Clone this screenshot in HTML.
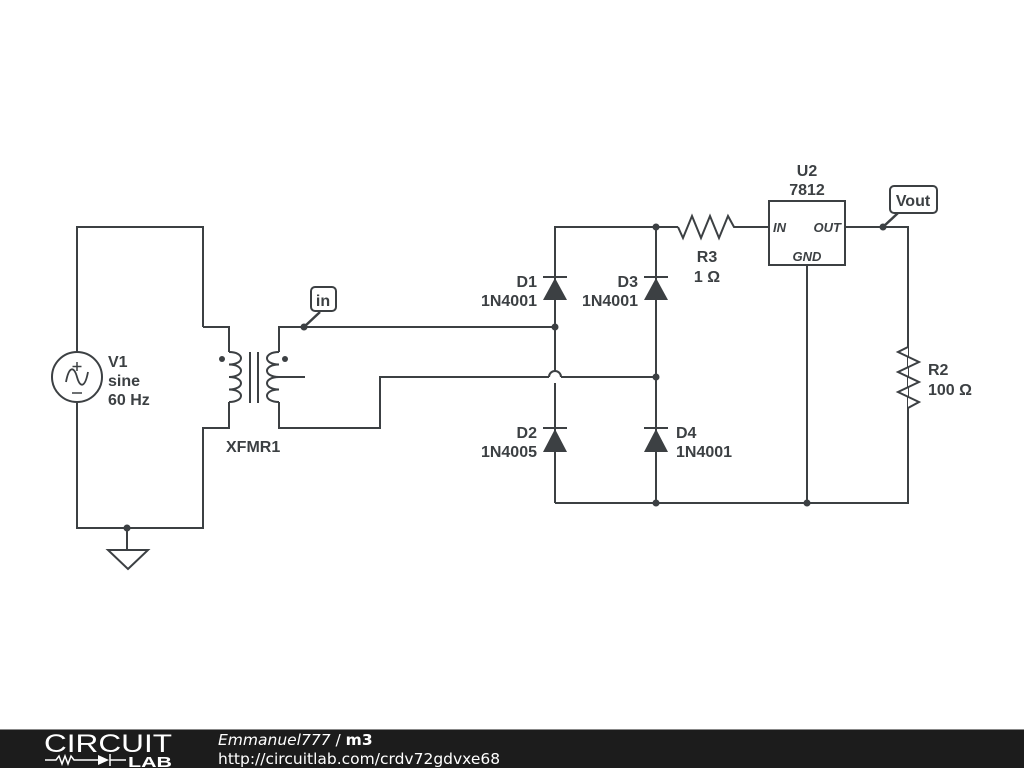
<!DOCTYPE html>
<html><head><meta charset="utf-8"><style>
html,body{margin:0;padding:0;background:#fff;width:1024px;height:768px;overflow:hidden}
svg{display:block}
text{font-family:"Liberation Sans",sans-serif;font-weight:bold;font-size:16px;fill:#3c4043}
</style></head><body>
<svg width="1024" height="768" viewBox="0 0 1024 768" xmlns="http://www.w3.org/2000/svg">
<g fill="none" stroke="#3c4043" stroke-width="2">
<polyline points="203,327 203,227 77,227 77,352"/>
<polyline points="77,402 77,528 203,528 203,428 229,428 229,402"/>
<polyline points="203,327 229,327 229,352"/>
<circle cx="77" cy="377" r="25"/>
<path d="M66,382 C69,366 74,366 77,377 C80,388 85,388 88,372" stroke-width="1.8"/>
<line x1="77" y1="362" x2="77" y2="371" stroke-width="1.5"/>
<line x1="72.5" y1="366.5" x2="81.5" y2="366.5" stroke-width="1.5"/>
<line x1="72" y1="393" x2="82" y2="393" stroke-width="1.5"/>
<line x1="127" y1="528" x2="127" y2="550"/>
<polygon points="108,550 148,550 128,569"/>
<path d="M229,352 c16,0 16,12.5 0,12.5 c16,0 16,12.5 0,12.5 c16,0 16,12.5 0,12.5 c16,0 16,12.5 0,12.5"/>
<line x1="250" y1="352" x2="250" y2="403"/>
<line x1="258" y1="352" x2="258" y2="403"/>
<path d="M279,352 c-16,0 -16,12.5 0,12.5 c-16,0 -16,12.5 0,12.5 c-16,0 -16,12.5 0,12.5 c-16,0 -16,12.5 0,12.5"/>
<polyline points="279,352 279,327 555,327"/>
<line x1="279" y1="377" x2="305" y2="377"/>
<polyline points="279,402 279,428 380,428 380,377 549,377"/>
<path d="M549,377 A6,6 0 0 1 561,377"/>
<line x1="561" y1="377" x2="656" y2="377"/>
<polyline points="555,371 555,227 678,227"/>
<line x1="555" y1="383" x2="555" y2="503"/>
<line x1="656" y1="227" x2="656" y2="503"/>
<polyline points="555,503 908,503 908,227 845,227"/>
<polyline points="678,227 683,238 692,216 701,238 710,216 719,238 728,216 734,227 769,227"/>
<rect x="769" y="201" width="76" height="64" fill="#fff"/>
<line x1="807" y1="265" x2="807" y2="503"/>
<polyline fill="#fff" points="908,340 908,347 898,352 919,362 898,372 919,382 898,392 919,402 908,408 908,414"/>
<line x1="543" y1="277" x2="567" y2="277"/>
<line x1="644" y1="277" x2="668" y2="277"/>
<line x1="543" y1="428" x2="567" y2="428"/>
<line x1="644" y1="428" x2="668" y2="428"/>
<rect x="311" y="287" width="25" height="24" rx="4" fill="#fff"/>
<line x1="304" y1="327" x2="320" y2="312" stroke-width="2.5"/>
<rect x="890" y="186" width="47" height="27" rx="4" fill="#fff"/>
<line x1="883" y1="227" x2="898" y2="213" stroke-width="2.5"/>
</g>
<g fill="#3c4043">
<polygon points="543,300 567,300 555,278"/>
<polygon points="644,300 668,300 656,278"/>
<polygon points="543,452 567,452 555,429"/>
<polygon points="644,452 668,452 656,429"/>
<circle cx="127" cy="528" r="3.5"/>
<circle cx="222" cy="359" r="3"/>
<circle cx="285" cy="359" r="3"/>
<circle cx="304" cy="327" r="3.5"/>
<circle cx="555" cy="327" r="3.5"/>
<circle cx="656" cy="377" r="3.5"/>
<circle cx="656" cy="227" r="3.5"/>
<circle cx="883" cy="227" r="3.5"/>
<circle cx="656" cy="503" r="3.5"/>
<circle cx="807" cy="503" r="3.5"/>
</g>
<text x="108" y="367">V1</text>
<text x="108" y="386">sine</text>
<text x="108" y="405">60 Hz</text>
<text x="226" y="452">XFMR1</text>
<text x="323" y="306" text-anchor="middle">in</text>
<text x="913" y="206" text-anchor="middle">Vout</text>
<text x="537" y="287" text-anchor="end">D1</text>
<text x="537" y="306" text-anchor="end">1N4001</text>
<text x="638" y="287" text-anchor="end">D3</text>
<text x="638" y="306" text-anchor="end">1N4001</text>
<text x="537" y="438" text-anchor="end">D2</text>
<text x="537" y="457" text-anchor="end">1N4005</text>
<text x="676" y="438">D4</text>
<text x="676" y="457">1N4001</text>
<text x="707" y="262" text-anchor="middle">R3</text>
<text x="707" y="282" text-anchor="middle">1 Ω</text>
<text x="807" y="176" text-anchor="middle">U2</text>
<text x="807" y="195" text-anchor="middle">7812</text>
<text x="928" y="375">R2</text>
<text x="928" y="395">100 Ω</text>
<text x="773" y="232" style="font-size:13px;font-style:italic">IN</text>
<text x="841" y="232" text-anchor="end" style="font-size:13px;font-style:italic">OUT</text>
<text x="807" y="261" text-anchor="middle" style="font-size:13px;font-style:italic">GND</text>
<rect x="0" y="729" width="1024" height="39" fill="#1c1c1c"/>
<line x1="0" y1="729.5" x2="1024" y2="729.5" stroke="#888" stroke-width="1"/>
<text x="44" y="752" textLength="128" lengthAdjust="spacingAndGlyphs" style="font-weight:normal;font-size:25px;fill:#fff">CIRCUIT</text>
<g stroke="#fff" stroke-width="1.5" fill="none">
<polyline points="45,760 56,760 59,756 62,764 65,756 68,764 71,756 74,760 98,760"/>
<line x1="110" y1="760" x2="126" y2="760"/>
<line x1="110" y1="754" x2="110" y2="766"/>
</g>
<polygon points="98,755 98,765 109,760" fill="#fff"/>
<text x="128" y="767" textLength="44" lengthAdjust="spacingAndGlyphs" style="font-size:15px;fill:#fff">LAB</text>
<text x="218" y="745" style="font-family:'DejaVu Sans',sans-serif;font-weight:normal;font-style:italic;font-size:15.5px;fill:#fff">Emmanuel777 <tspan font-style="normal">/</tspan> <tspan font-weight="bold" font-style="normal">m3</tspan></text>
<text x="218" y="764" style="font-family:'DejaVu Sans',sans-serif;font-weight:normal;font-size:15.5px;fill:#fff">http://circuitlab.com/crdv72gdvxe68</text>
</svg>
</body></html>
